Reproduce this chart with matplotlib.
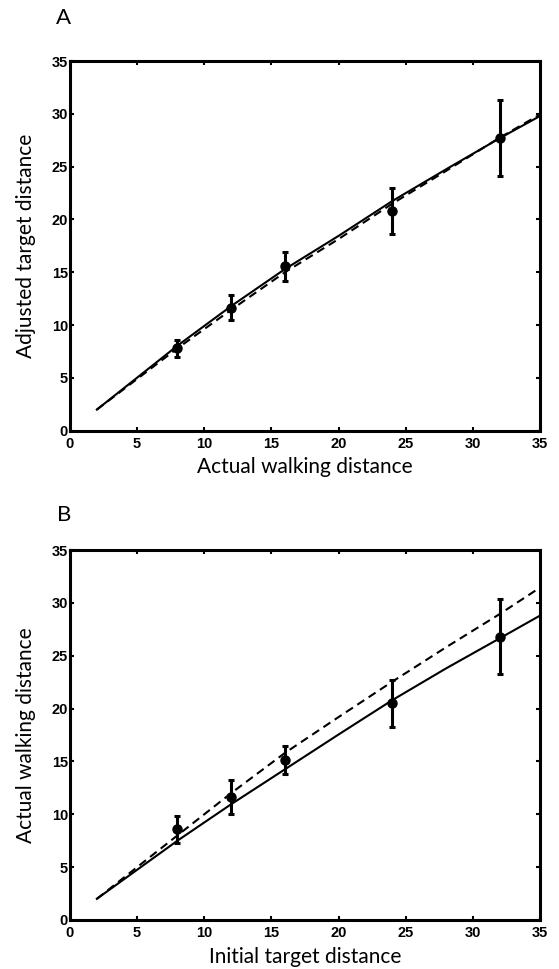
import matplotlib
matplotlib.use("Agg")
import matplotlib.pyplot as plt

# mean data points with error bars
dist = [8, 12, 16, 24, 32]

a_mean = [7.8, 11.65, 15.55, 20.8, 27.75]
a_err = [0.8, 1.2, 1.35, 2.2, 3.6]

b_mean = [8.6, 11.65, 15.15, 20.5, 26.8]
b_err = [1.28, 1.6, 1.35, 2.2, 3.55]

# model curves
line_x = [2, 8, 12, 16, 20, 24, 28, 32, 35]
a_solid = [2.0, 8.05, 11.8, 15.3, 18.45, 21.75, 24.75, 27.7, 29.8]
a_dashed = [2.0, 7.8, 11.45, 15.0, 18.15, 21.5, 24.6, 27.75, 29.95]

b_solid = [2.0, 7.5, 10.95, 14.25, 17.55, 20.8, 23.8, 26.65, 28.8]
b_dashed = [2.0, 8.0, 12.0, 15.8, 19.2, 22.55, 25.8, 28.95, 31.45]

ticks = [0, 5, 10, 15, 20, 25, 30, 35]

fig = plt.figure(figsize=(5.59, 9.69), dpi=100)
axA = fig.add_axes([0.1252, 0.5555, 0.841, 0.3815])
axB = fig.add_axes([0.1252, 0.0506, 0.841, 0.3818])

label_font = dict(family="Lato", size=15)


def draw(ax, mean, err, solid, dashed, xlabel, ylabel):
    ax.plot(line_x, dashed, color="black", lw=1.5, ls=(0, (4, 2.5)))
    ax.plot(line_x, solid, color="black", lw=1.5)
    ax.errorbar(dist, mean, yerr=err, fmt="o", color="black", ms=6.5,
                elinewidth=2.2, capsize=2.5, capthick=2.2)
    ax.set_xlim(0, 35)
    ax.set_ylim(0, 35)
    ax.set_xticks(ticks)
    ax.set_yticks(ticks)
    ax.tick_params(direction="in", length=3, width=1.5, top=True, right=True,
                   labelsize=10.5)
    ax.tick_params(axis="x", pad=4.5)
    ax.tick_params(axis="y", pad=1.5)
    for lab in ax.get_xticklabels() + ax.get_yticklabels():
        lab.set_family("Liberation Sans")
        lab.set_fontweight("bold")
    for s in ax.spines.values():
        s.set_linewidth(2.2)
    ax.set_xlabel(xlabel, fontdict=label_font)
    ax.set_ylabel(ylabel, fontdict=label_font)
    ax.xaxis.set_label_coords(0.5, -0.072)
    ax.yaxis.set_label_coords(-0.073, 0.5)


draw(axA, a_mean, a_err, a_solid, a_dashed,
     "Actual walking distance", "Adjusted target distance")
draw(axB, b_mean, b_err, b_solid, b_dashed,
     "Initial target distance", "Actual walking distance")

fig.text(64 / 559, 1 - 18 / 969, "A", ha="center", va="center",
         family="Lato", size=16)
fig.text(64 / 559, 1 - 515 / 969, "B", ha="center", va="center",
         family="Lato", size=16)

fig.savefig("out.png", dpi=100)
